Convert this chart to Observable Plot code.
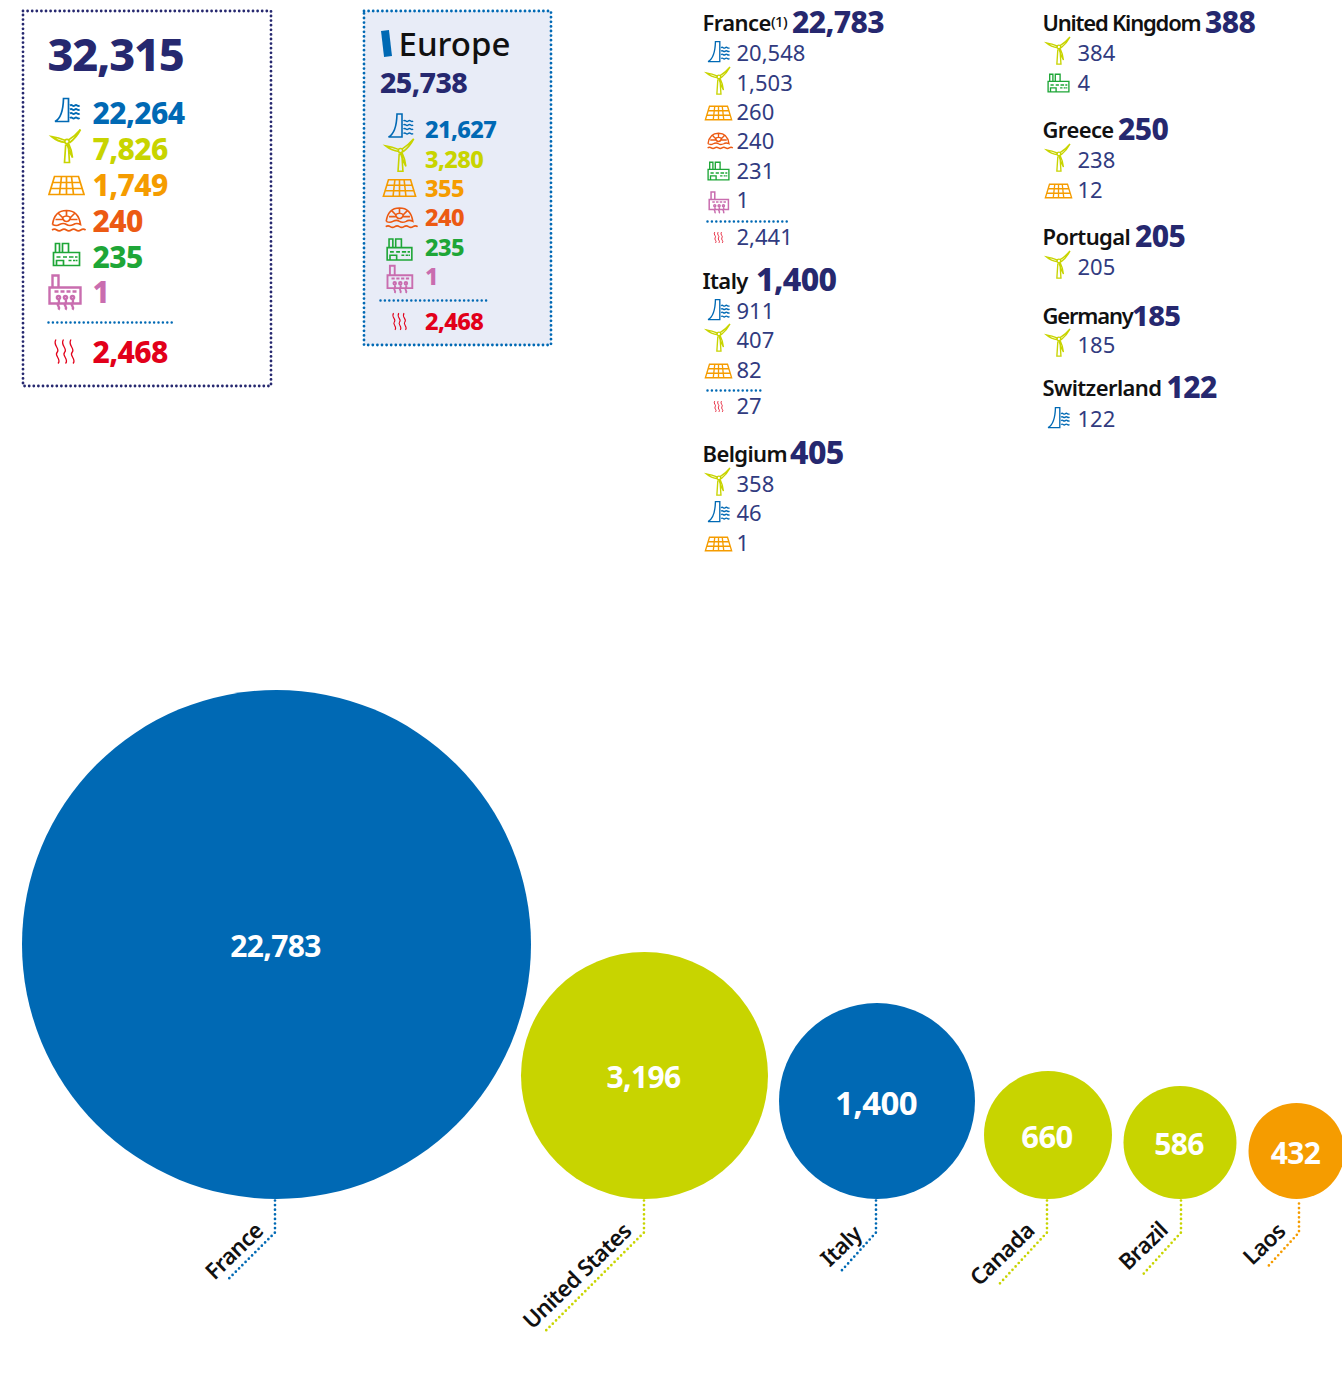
<!DOCTYPE html>
<html><head><meta charset="utf-8">
<style>
html,body{margin:0;padding:0;background:#fff;overflow:hidden}
svg{display:block}
.tight text,text.tight{letter-spacing:-0.6px}
.tighter text{letter-spacing:-1.2px}
</style>
<script src="https://cdn.jsdelivr.net/npm/d3@7"></script>
<script src="https://cdn.jsdelivr.net/npm/@observablehq/plot@0.6"></script>
</head><body><div id="chart"></div>
<script>
// ---- data ----
const kinds = ["hydro","wind","solar","marine","thermal","geothermal","heat"];
const kindColors = ["#0069b4","#c8d400","#f59c00","#ec5a13","#1ea637","#c96daf","#e2001a"];

const worldTotal = 32315;
const worldValues = [22264,7826,1749,240,235,1,2468];
const europeName = "Europe";
const europeTotal = 25738;
const europeValues = [21627,3280,355,240,235,1,2468];

const countryNames  = ["France","Italy","Belgium","United Kingdom","Greece","Portugal","Germany","Switzerland"];
const countryTotals = [22783,1400,405,388,250,205,185,122];
const franceKinds  = ["hydro","wind","solar","marine","thermal","geothermal","heat"];
const franceValues = [20548,1503,260,240,231,1,2441];
const italyKinds   = ["hydro","wind","solar","heat"];
const italyValues  = [911,407,82,27];
const belgiumKinds = ["wind","hydro","solar"];
const belgiumValues= [358,46,1];
const ukKinds      = ["wind","thermal"];
const ukValues     = [384,4];
const greeceKinds  = ["wind","solar"];
const greeceValues = [238,12];
const portugalKinds= ["wind"];
const portugalValues=[205];
const germanyKinds = ["wind"];
const germanyValues= [185];
const swissKinds   = ["hydro"];
const swissValues  = [122];

const topCountries = ["France","United States","Italy","Canada","Brazil","Laos"];
const topValues    = [22783,3196,1400,660,586,432];
const topKinds     = ["hydro","wind","hydro","wind","wind","solar"];

// ---- layout (separate from values) ----
const W = 1342, H = 1375;
const navy = "#26286f", softNavy = "#313b80", blue = "#0069b4";
const face = "'Noto Sans','Open Sans',sans-serif";
const circleBaseY = 1198.5;
const circleX = [276,644,876.5,1047.5,1179.5,1296];
const radiusDomain = [432,586,660,1400,3196,22783];
const radiusRange  = [48,56.5,64,98,123.5,254.5];
const labelPos = [[234,1251],[577,1276],[841,1246],[1002,1254],[1143,1246],[1264,1244]];
const labelSizes = [30,30,33,31,30,30];
const leaderX = [274.5,643.5,875.5,1046.5,1180.5,1298.5];
const leaderEnd = [[228.5,1278],[545.5,1330],[838.5,1273],[996.5,1286],[1141.5,1275],[1266.5,1267]];
const leaderStartY = [1200,1200,1200,1200,1200,1203];
const leaderBendY = 1232;

const worldRowY = [123,159,195,231,267,302,362];
const worldIconDY = [-13,-13,-10,-10,-13,-11,-11];
const worldIconX = [66.5,66,66,66,66,64,64];
const europeRowY = [137,167,196,225,255,284,329.5];
const europeIconDY = [-11.5,-12,-8.5,-7,-6,-6,-8.5];
const europeIconX = [400,399.5,399,399,399,399,399];
const europeIconScale = {hydro:1,wind:.98,solar:.92,marine:.95,thermal:.95,geothermal:.8,heat:.7};
const listIconDY = {hydro:-9,wind:-10,solar:-7,marine:-7.5,thermal:-8,geothermal:-6,heat:-7.5};
const listIconScale = {hydro:.87,wind:.82,solar:.75,marine:.75,thermal:.8,geothermal:.62,heat:.45};

const lists = [
 {name:0,x:702,head:30,numX:791.5,numSize:30,tightName:false,kinds:franceKinds,values:franceValues,rows:[60.5,90.5,119.5,148.5,178.5,207.5,244.5],sep:[707,790,221],note:"(1)"},
 {name:1,x:702,head:288,numX:755.5,numSize:32,tightName:false,kinds:italyKinds,values:italyValues,rows:[318.5,347.5,377.5,413.5],sep:[707,761,390]},
 {name:2,x:702,head:461,numX:789.5,numSize:32,tightName:false,kinds:belgiumKinds,values:belgiumValues,rows:[491.5,520.5,550.5]},
 {name:3,x:1042,head:30,numX:1204.5,numSize:30,tightName:true,kinds:ukKinds,values:ukValues,rows:[60.5,90.5]},
 {name:4,x:1042,head:137,numX:1117.5,numSize:30,tightName:false,kinds:greeceKinds,values:greeceValues,rows:[167.5,197.5]},
 {name:5,x:1042,head:244,numX:1134.5,numSize:30,tightName:false,kinds:portugalKinds,values:portugalValues,rows:[274.5]},
 {name:6,x:1042,head:323,numX:1131.5,numSize:29,tightName:true,kinds:germanyKinds,values:germanyValues,rows:[352.5]},
 {name:7,x:1042,head:395,numX:1166,numSize:30,tightName:false,kinds:swissKinds,values:swissValues,rows:[426.5]}
];

// ---- icon glyphs: custom Plot symbols ----
const glyph = fn => ({draw(c,size){
  const k = Math.sqrt(size/Math.PI)/16;
  const p = {
    M:(x,y)=>c.moveTo(x*k,y*k), L:(x,y)=>c.lineTo(x*k,y*k),
    Q:(a,b,x,y)=>c.quadraticCurveTo(a*k,b*k,x*k,y*k),
    C:(a,b,d,e,x,y)=>c.bezierCurveTo(a*k,b*k,d*k,e*k,x*k,y*k),
    A:(x,y,r,a0,a1,ccw)=>{c.moveTo((x+r*Math.cos(a0))*k,(y+r*Math.sin(a0))*k);c.arc(x*k,y*k,r*k,a0,a1,ccw)},
    Z:()=>c.closePath()
  };
  fn(p);
}});
const hWave = (p,x0,x1,y,a,step) => {p.M(x0,y);let s=1;for(let x=x0;x<x1;x+=step){p.Q(x+step/2,y-a*s,x+step,y);s=-s}};
const vWave = (p,x,y0,y1,a,step) => {p.M(x,y0);let s=1;for(let y=y0;y<y1;y+=step){p.Q(x+a*s,y+step/2,x,y+step);s=-s}};
const glyphs = {
 hydro: glyph(p=>{
   p.M(-12,11);p.Q(-4,7,-3.5,-12);p.L(1.5,-12);p.L(1.5,11);p.Z();
   [-5,-1,3,7.5].forEach(y=>hWave(p,3,12.5,y,1,2.4));
 }),
 wind: glyph(p=>{
   p.M(-.8,-2);p.L(-2,16);p.L(3,16);p.L(1.8,-2);
   p.A(.5,-5,2.2,0,Math.PI*2);
   p.M(-1,-6);p.Q(-8,-9,-15,-10);p.Q(-9,-5,-1,-4);
   p.M(2,-6.5);p.Q(8,-10,14,-17);p.Q(10,-9,3,-3.8);
   p.M(2,-3);p.Q(5,3,6,11);p.Q(2.5,5,.5,-2.5);
 }),
 solar: glyph(p=>{
   p.M(-12,-9);p.L(12,-9);p.L(17.5,9);p.L(-17.5,9);p.Z();
   p.M(-14,-3);p.L(14,-3);p.M(-16,3);p.L(16,3);
   p.M(-5,-9);p.L(-7,9);p.M(5,-9);p.L(7,9);p.M(0,-9);p.L(0,9);
 }),
 marine: glyph(p=>{
   p.M(-14,3);p.Q(-12,-11,0,-11);p.Q(12,-11,14,3);
   p.Q(10,1,7,3);p.Q(3,5,0,3);p.Q(-3,1,-7,3);p.Q(-10,5,-14,3);
   p.M(-4,-4);p.Q(0,-7,4,-4);p.Q(3,0,0,0);p.Q(-3,0,-4,-4);
   p.M(0,-11);p.L(0,-6);p.M(-8,-8);p.L(-4,-4);p.M(8,-8);p.L(4,-4);p.M(-11,-2);p.L(-4,-2);p.M(11,-2);p.L(4,-2);
   hWave(p,-14.5,14.5,8.5,1.6,4.8);
 }),
 thermal: glyph(p=>{
   p.M(-13,11);p.L(-13,-2);p.L(13,-2);p.L(13,11);p.Z();
   p.M(-11,-2);p.L(-11,-11);p.L(-7,-11);p.L(-7,-2);
   p.M(-4,-2);p.L(-4,-11);p.L(2,-11);p.L(2,-2);
   [[-10,-6],[-3.5,.5],[2.5,7],[8.5,11]].forEach(([a,b])=>{p.M(a,2.5);p.L(b,2.5)});
   [[2,5],[6.5,9],[9.5,11]].forEach(([a,b])=>{p.M(a,6);p.L(b,6)});
   p.M(-10,11);p.L(-10,6);p.L(-3,6);p.L(-3,11);
 }),
 geothermal: glyph(p=>{
   p.M(-15,-4);p.L(16,-4);p.L(16,12);p.L(-15,12);p.Z();
   p.M(-12,-4);p.L(-12,-16);p.L(-6,-16);p.L(-6,-4);
   [[-10,-6],[-4,0],[2,6],[8,12]].forEach(([a,b])=>{p.M(a,0);p.L(b,0)});
   [-6,1,8].forEach(x=>{p.A(x,6,1.6,0,Math.PI*2);vWave(p,x,8,18,1.2,3.4)});
 }),
 heat: glyph(p=>{
   [-7.5,0,7.5].forEach(x=>{p.M(x-1,-12);p.C(x-5,-6,x+4,-3,x,1);p.C(x-3,4,x+5,8,x+1,12)});
 })
};

// ---- tables derived from the arrays ----
const fmt = d3.format(",");
const rowsFrom = (ks,vals,ys) => ks.map((kind,i)=>({kind,value:vals[i],y:ys[i],label:fmt(vals[i])}));
const world  = rowsFrom(kinds,worldValues,worldRowY);
const europe = rowsFrom(kinds,europeValues,europeRowY);
const listRows = lists.flatMap(l=>rowsFrom(l.kinds,l.values,l.rows).map(r=>({...r,x:l.x<800?736:1077,ix:l.x<800?718:1058})));
const heads = lists.map(l=>({x:l.x,y:l.head,name:countryNames[l.name],numX:l.numX,numSize:l.numSize,tightName:l.tightName,total:fmt(countryTotals[l.name]),note:l.note}));
const tops = topCountries.map((name,i)=>{
  const r = radiusRange[radiusDomain.indexOf(topValues[i])];
  return {name,value:topValues[i],kind:topKinds[i],x:circleX[i],y:circleBaseY-r,label:fmt(topValues[i]),size:labelSizes[i],lx:labelPos[i][0],ly:labelPos[i][1]};
});
const leaders = topCountries.flatMap((name,i)=>[
  {name,kind:topKinds[i],x:leaderX[i],y:leaderStartY[i]},
  {name,kind:topKinds[i],x:leaderX[i],y:leaderBendY},
  {name,kind:topKinds[i],x:leaderEnd[i][0],y:leaderEnd[i][1]}
]);
const seps = [{x1:48,x2:172,y:322},{x1:380,x2:487,y:300},...lists.filter(l=>l.sep).map(l=>({x1:l.sep[0],x2:l.sep[1],y:l.sep[2]}))]
  .flatMap((s,i)=>[{id:i,x:s.x1,y:s.y},{id:i,x:s.x2,y:s.y}]);

// ---- marks ----
const iconMarks = (rows,xOf,yOf,scaleOf,swOf) => kinds.flatMap(k=>{
  const d = rows.filter(r=>r.kind===k);
  return d.length ? [Plot.dot(d,{x:xOf,y:yOf,symbol:glyphs[k],r:16*scaleOf(k),stroke:"kind",fill:"none",strokeWidth:swOf(k)})] : [];
});
const dotted = {strokeDasharray:"0 4.6",strokeLinecap:"round"};
const T = (d,o) => Plot.text(d,{textAnchor:"start",lineAnchor:"bottom",fontFamily:face,...o});

const marks = [
  // panels
  Plot.rect([{x1:23,x2:271,y1:11,y2:386}],{x1:"x1",x2:"x2",y1:"y1",y2:"y2",fill:"none",stroke:navy,strokeWidth:2.8,...dotted}),
  Plot.rect([{x1:364,x2:551,y1:11,y2:345}],{x1:"x1",x2:"x2",y1:"y1",y2:"y2",fill:"#e8ecf7",stroke:blue,strokeWidth:2.8,...dotted}),
  Plot.line(seps,{x:"x",y:"y",z:"id",stroke:blue,strokeWidth:2.5,strokeDasharray:"0 4.4",strokeLinecap:"round"}),
  // world panel
  T([worldTotal],{x:47,y:70,text:d=>fmt(d),fontSize:45,fontWeight:800,fill:navy,className:"tighter"}),
  T(world,{x:92,y:"y",text:"label",fontSize:30,fontWeight:800,fill:"kind",className:"tight"}),
  ...iconMarks(world,(d,i)=>worldIconX[kinds.indexOf(d.kind)],d=>d.y+worldIconDY[kinds.indexOf(d.kind)],()=>1,k=>k==="geothermal"?2.4:k==="heat"?1.3:1.7),
  // europe panel
  Plot.link([0],{x1:()=>384.5,x2:()=>387.5,y1:()=>30,y2:()=>56,stroke:blue,strokeWidth:8}),
  T([europeName],{x:398,y:55,text:d=>d,fontSize:33,fontWeight:500,fill:"#111"}),
  T([europeTotal],{x:379.5,y:92,text:d=>fmt(d),fontSize:28.5,fontWeight:800,fill:navy,className:"tight"}),
  T(europe,{x:424.5,y:"y",text:"label",fontSize:23.5,fontWeight:800,fill:"kind",className:"tight"}),
  ...iconMarks(europe,d=>europeIconX[kinds.indexOf(d.kind)],d=>d.y+europeIconDY[kinds.indexOf(d.kind)],k=>europeIconScale[k],k=>k==="geothermal"?1.9:k==="heat"?1.1:1.6),
  // country lists
  T(heads.filter(d=>!d.tightName),{x:"x",y:"y",text:"name",fontSize:22,fontWeight:600,fill:"#111",className:"tight"}),
  T(heads.filter(d=>d.tightName),{x:"x",y:"y",text:"name",fontSize:22,fontWeight:600,fill:"#111",className:"tighter"}),
  T(heads.filter(d=>d.note),{x:770.5,y:d=>d.y-3.5,text:"note",fontSize:15,fontWeight:500,fill:"#111",className:"tight"}),
  T(heads,{x:"numX",y:d=>d.y+2,text:"total",fontSize:d=>d.numSize,fontWeight:800,fill:navy,className:"tight"}),
  T(listRows,{x:"x",y:"y",text:"label",fontSize:22,fontWeight:400,fill:softNavy}),
  ...iconMarks(listRows,"ix",d=>d.y+listIconDY[d.kind],k=>listIconScale[k],k=>k==="heat"?.8:k==="geothermal"?1.5:1.35),
  // bubbles
  Plot.dot(tops,{x:"x",y:"y",r:"value",fill:"kind",stroke:"none"}),
  Plot.text(tops,{x:"x",y:"y",dx:-1,dy:3,text:"label",fill:"#fff",fontFamily:face,fontSize:d=>d.size,fontWeight:700,className:"tight"}),
  Plot.line(leaders,{x:"x",y:"y",z:"name",stroke:"kind",strokeWidth:2.7,...dotted}),
  Plot.text(tops,{x:"lx",y:"ly",text:"name",rotate:-44,fontFamily:face,fontSize:22.5,fontWeight:600,fill:"#111",className:"tight"})
];

const chart = Plot.plot({
  width:W,height:H,margin:0,
  x:{domain:[0,W],range:[0,W],axis:null},
  y:{domain:[0,H],range:[0,H],axis:null},
  color:{domain:kinds,range:kindColors},
  r:{type:"linear",domain:radiusDomain,range:radiusRange},
  style:{background:"#fff",overflow:"hidden"},
  marks
});
document.getElementById("chart").append(chart);
</script></body></html>
